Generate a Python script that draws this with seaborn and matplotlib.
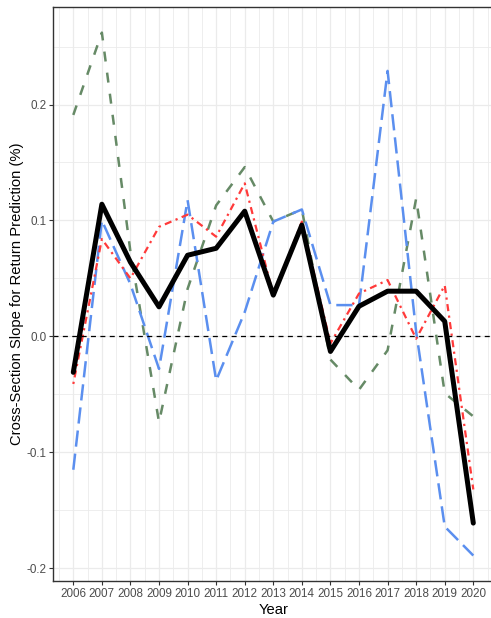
import matplotlib
matplotlib.use("Agg")
import matplotlib.pyplot as plt
import seaborn as sns
import pandas as pd
import numpy as np
from matplotlib.ticker import FixedLocator, MultipleLocator, FixedFormatter

years = list(range(2006, 2021))
black_vals = [-0.031, 0.114, 0.064, 0.0255, 0.070, 0.076, 0.108, 0.0356, 0.096, -0.013, 0.026, 0.039, 0.039, 0.013, -0.161]
red_vals = [-0.041, 0.084, 0.050, 0.0945, 0.105, 0.086, 0.132, 0.0356, 0.099, -0.006, 0.037, 0.0486, -0.002, 0.044, -0.132]
blue_vals = [-0.115, 0.100, 0.045, -0.028, 0.1175, -0.038, 0.021, 0.099, 0.1095, 0.027, 0.027, 0.229, 0.004, -0.164, -0.189]
green_vals = [0.191, 0.262, 0.073, -0.074, 0.041, 0.113, 0.146, 0.099, 0.1095, -0.020, -0.046, -0.012, 0.119, -0.049, -0.069]
y_ticks = [-0.2, -0.1, 0.0, 0.1, 0.2]
y_tick_labels = ["-0.2", "-0.1", "0.0", "0.1", "0.2"]
x_tick_labels = [str(y) for y in years]

sns.set_theme(style="white")
plt.rcParams['font.family'] = ['Liberation Sans', 'DejaVu Sans']

fig = plt.figure(figsize=(4.91, 6.18), dpi=100)
ax = fig.add_axes([53.3 / 491, 37.3 / 618, 440 / 491, 573.7 / 618])

ax.set_xlim(2005.3, 2020.7)
ax.set_ylim(-0.2107, 0.2841)

# grid
ax.xaxis.set_major_locator(FixedLocator(years))
ax.xaxis.set_minor_locator(MultipleLocator(0.5))
ax.yaxis.set_major_locator(FixedLocator(y_ticks))
ax.yaxis.set_minor_locator(MultipleLocator(0.05))
ax.grid(which="major", color="#EBEBEB", linewidth=0.9)
ax.grid(which="minor", color="#EBEBEB", linewidth=0.6)
ax.set_axisbelow(True)

series = [
    ("Green", green_vals, "#668A66", 1.8, (0, (4, 4.5))),
    ("Blue", blue_vals, "#5B8FEF", 1.8, (0, (6.5, 2.8))),
    ("Red", red_vals, "#FF3A3A", 1.6, (0, (1, 2, 3.2, 2))),
]
for name, vals, col, lw, ls in series:
    df = pd.DataFrame({"Year": years, "Slope": vals})
    sns.lineplot(data=df, x="Year", y="Slope", color=col, linewidth=lw,
                 linestyle=ls, errorbar=None, ax=ax)

df_b = pd.DataFrame({"Year": years, "Slope": black_vals})
sns.lineplot(data=df_b, x="Year", y="Slope", color="black", linewidth=3.6,
             errorbar=None, ax=ax)

ax.axhline(0, color="black", linewidth=0.9, linestyle=(0, (4, 3.5)))

ax.xaxis.set_major_formatter(FixedFormatter(x_tick_labels))
ax.yaxis.set_major_formatter(FixedFormatter(y_tick_labels))
ax.tick_params(axis="both", which="major", length=2.7, width=0.8, color="#333333",
               labelsize=8.4, labelcolor="#4D4D4D", pad=2.2, bottom=True, left=True)
ax.tick_params(axis="both", which="minor", length=0)

for s in ax.spines.values():
    s.set_color("#333333")
    s.set_linewidth(1.0)

ax.set_xlabel("Year", fontsize=10.6, color="black")
ax.set_ylabel("Cross-Section Slope for Return Prediction (%)", fontsize=10.6, color="black")
ax.xaxis.label.set_verticalalignment("center")
ax.yaxis.label.set_verticalalignment("center")
ax.xaxis.set_label_coords(0.5, (580.7 - 610) / 573.7)
ax.yaxis.set_label_coords((17 - 53.3) / 440, 0.5)

fig.savefig("out.png", dpi=100)
